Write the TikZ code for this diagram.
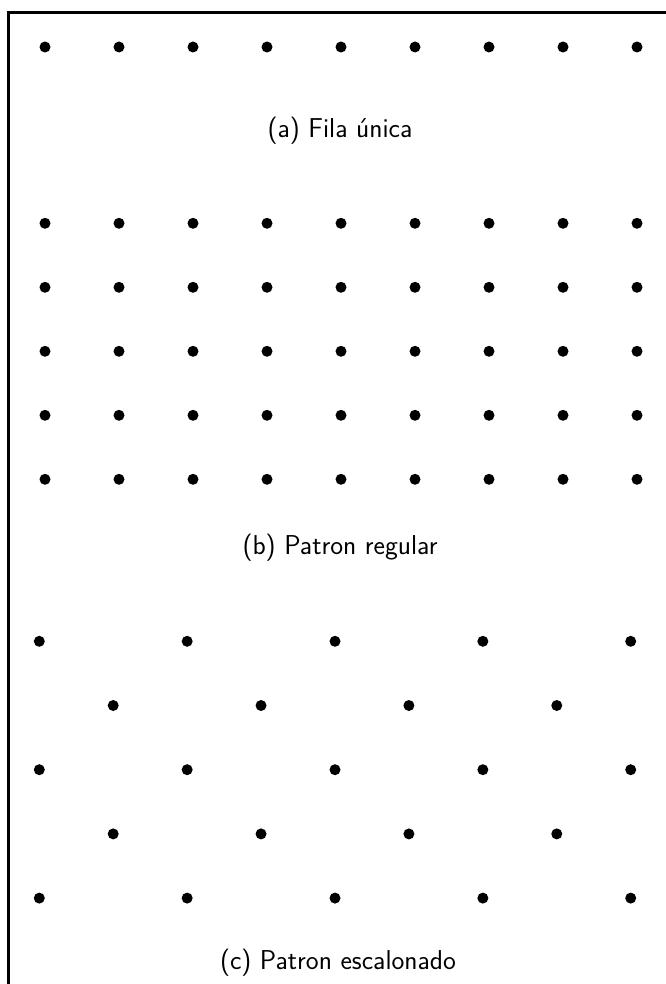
\documentclass[tikz,border=0pt]{standalone}
\begin{document}
\begin{tikzpicture}[x=1pt,y=-1pt,
  dot/.style={circle,fill=black,inner sep=0pt,minimum size=11pt},
  captext/.style={font=\fontsize{27.3}{32}\selectfont\sffamily,inner sep=0pt,anchor=center},
  frameline/.style={line width=2.2pt,black}]
\useasboundingbox (0,0) rectangle (665,984);
\coordinate (fbl) at (8.5,990);
\coordinate (ftl) at (8.5,12.5);
\coordinate (ftr) at (670,12.5);
\draw[frameline] (fbl) -- (ftl) -- (ftr);
% (a) single row
\foreach \i in {0,...,8}{
  \node[dot] (a\i) at (45+74*\i,47) {};
}
\node[captext] (capa) at (340,131) {(a) Fila única};
% (b) regular pattern
\foreach \j in {0,...,4}{
  \foreach \i in {0,...,8}{
    \node[dot] (b\j\i) at (45+74*\i,223.3+64*\j) {};
  }
}
\node[captext] (capb) at (340,548) {(b) Patron regular};
% (c) staggered pattern
\foreach \j in {0,2,4}{
  \foreach \i in {0,...,4}{
    \node[dot] (c\j\i) at (39.3+147.85*\i,641.3+64.2*\j) {};
  }
}
\foreach \j in {1,3}{
  \foreach \i in {0,...,3}{
    \node[dot] (c\j\i) at (113.2+147.85*\i,641.3+64.2*\j) {};
  }
}
\node[captext] (capc) at (338,962.5) {(c) Patron escalonado};
\end{tikzpicture}
\end{document}
